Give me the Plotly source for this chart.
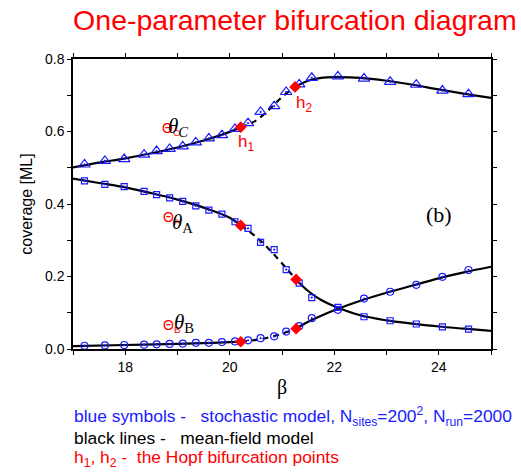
import plotly.graph_objects as go

# ---- stochastic model (blue symbols) ----
x_sym = [17.22, 17.61, 17.98, 18.36, 18.60, 18.85, 19.10, 19.35, 19.60, 19.85,
         20.10, 20.35, 20.59, 20.85, 21.08, 21.33, 21.57, 22.07, 22.57, 23.07,
         23.57, 24.07, 24.57]
theta_C_sym = [0.509, 0.519, 0.524, 0.536, 0.546, 0.552, 0.559, 0.570, 0.581, 0.590,
               0.607, 0.623, 0.654, 0.670, 0.709, 0.730, 0.748, 0.752, 0.746, 0.737,
               0.729, 0.713, 0.703]
theta_A_sym = [0.464, 0.454, 0.448, 0.435, 0.426, 0.417, 0.407, 0.395, 0.383, 0.372,
               0.351, 0.333, 0.294, 0.274, 0.219, 0.182, 0.142, 0.115, 0.089, 0.078,
               0.069, 0.061, 0.055]
theta_B_sym = [0.009, 0.010, 0.011, 0.012, 0.013, 0.014, 0.015, 0.017, 0.017, 0.019,
               0.021, 0.024, 0.030, 0.035, 0.048, 0.063, 0.085, 0.108, 0.139, 0.158,
               0.177, 0.199, 0.218]

# ---- mean-field model (black lines) ----
x_C_s1 = [17.0, 17.5, 18.0, 18.5, 19.0, 19.5, 20.0, 20.21]
y_C_s1 = [0.501, 0.514, 0.526, 0.540, 0.556, 0.575, 0.599, 0.612]
x_C_d = [20.21, 20.5, 20.75, 21.0, 21.25]
y_C_d = [0.612, 0.630, 0.660, 0.695, 0.723]
x_C_s2 = [21.25, 21.5, 21.75, 22.0, 22.5, 23.0, 23.5, 24.0, 24.5, 25.0]
y_C_s2 = [0.723, 0.740, 0.748, 0.750, 0.748, 0.740, 0.729, 0.716, 0.704, 0.693]

x_A_s1 = [17.0, 17.5, 18.0, 18.5, 19.0, 19.5, 20.0, 20.21]
y_A_s1 = [0.470, 0.458, 0.446, 0.430, 0.412, 0.390, 0.362, 0.341]
x_A_d = [20.21, 20.5, 20.8, 21.05, 21.27]
y_A_d = [0.341, 0.310, 0.268, 0.228, 0.192]
x_A_s2 = [21.27, 21.5, 21.75, 22.0, 22.5, 23.0, 23.5, 24.0, 24.5, 25.0]
y_A_s2 = [0.192, 0.160, 0.135, 0.118, 0.093, 0.079, 0.070, 0.062, 0.056, 0.050]

x_B_s1 = [17.0, 18.0, 19.0, 19.5, 20.0, 20.21]
y_B_s1 = [0.008, 0.011, 0.014, 0.016, 0.019, 0.020]
x_B_d = [20.21, 20.5, 20.75, 21.0, 21.27]
y_B_d = [0.020, 0.025, 0.032, 0.042, 0.056]
x_B_s2 = [21.27, 21.5, 21.75, 22.0, 22.5, 23.0, 23.5, 24.0, 24.5, 25.0]
y_B_s2 = [0.056, 0.075, 0.092, 0.107, 0.133, 0.155, 0.175, 0.195, 0.212, 0.227]

# ---- Hopf bifurcation points ----
x_hopf = [20.21, 21.25, 20.21, 21.27, 20.21, 21.27]
y_hopf = [0.612, 0.723, 0.341, 0.192, 0.020, 0.056]

x_tickvals = [17, 18, 19, 20, 21, 22, 23, 24, 25]
x_ticktext = ["", "18", "", "20", "", "22", "", "24", ""]
y_tickvals = [0.0, 0.1, 0.2, 0.3, 0.4, 0.5, 0.6, 0.7, 0.8]
y_ticktext = ["0.0", "", "0.2", "", "0.4", "", "0.6", "", "0.8"]

fig = go.Figure()

def line(x, y, dash):
    fig.add_trace(go.Scatter(x=x, y=y, mode="lines",
                             line=dict(color="black", width=2.2, dash=dash, shape="spline"),
                             showlegend=False, hoverinfo="skip"))

for xs, ys in [(x_C_s1, y_C_s1), (x_C_s2, y_C_s2), (x_A_s1, y_A_s1),
               (x_A_s2, y_A_s2), (x_B_s1, y_B_s1), (x_B_s2, y_B_s2)]:
    line(xs, ys, "solid")
for xs, ys in [(x_C_d, y_C_d), (x_A_d, y_A_d), (x_B_d, y_B_d)]:
    line(xs, ys, "6px,5px")

blue = "#1a1aff"
for ys, sym, sz in [(theta_C_sym, "triangle-up-open-dot", 10),
                    (theta_A_sym, "square-open-dot", 6),
                    (theta_B_sym, "circle-open-dot", 7)]:
    fig.add_trace(go.Scatter(x=x_sym, y=ys, mode="markers",
                             marker=dict(symbol=sym, size=sz, color=blue,
                                         line=dict(width=1.2, color=blue)),
                             showlegend=False))

fig.add_trace(go.Scatter(x=x_hopf, y=y_hopf, mode="markers",
                         marker=dict(symbol="diamond", size=9, color="#ff0000"),
                         showlegend=False))

red = "#ff0000"
ann = []
def label(x, y, text, color, size, family="Liberation Sans", xanchor="left"):
    ann.append(dict(x=x, y=y, xref="x", yref="y", text=text, showarrow=False,
                    font=dict(color=color, size=size, family=family),
                    xanchor=xanchor, yanchor="middle", borderpad=0))

label(18.686, 0.607, "Θ<sub>C</sub>", red, 14)
label(18.80, 0.612, "<i>θ</i><sub><i>C</i></sub>", "black", 21, "Liberation Serif")
label(18.705, 0.361, "Θ<sub>A</sub>", red, 14)
label(18.88, 0.348, "<i>θ</i><sub>A</sub>", "black", 21, "Liberation Serif")
label(18.705, 0.063, "Θ<sub>B</sub>", red, 14)
label(18.92, 0.072, "<i>θ</i><sub>B</sub>", "black", 21, "Liberation Serif")
label(20.31, 0.568, "h<sub>1</sub>", red, 17, xanchor="center")
label(21.43, 0.676, "h<sub>2</sub>", red, 17, xanchor="center")
label(24.01, 0.372, "(b)", "black", 22, "Liberation Serif", xanchor="center")

foot = [
    ("blue symbols -\u00a0\u00a0\u00a0stochastic model, N<sub>sites</sub>=200<sup>2</sup>, N<sub>run</sub>=2000", blue, -0.234),
    ("black lines -\u00a0\u00a0\u00a0mean-field model", "black", -0.307),
    ("h<sub>1</sub>, h<sub>2</sub> -\u00a0\u00a0the Hopf bifurcation points", red, -0.376),
]
for t, c, yy in foot:
    ann.append(dict(x=0, y=yy, xref="paper", yref="paper", text=t, showarrow=False,
                    font=dict(color=c, size=17.4, family="Liberation Sans"),
                    xanchor="left", yanchor="middle", borderpad=0))

fig.update_layout(
    width=521, height=472,
    margin=dict(l=73, r=30, t=59, b=123, autoexpand=False),
    paper_bgcolor="white", plot_bgcolor="white",
    title=dict(text="One-parameter bifurcation diagram", x=0.566, xanchor="center",
               y=0.958, yanchor="middle", font=dict(color=red, size=28.5, family="Liberation Sans")),
    annotations=ann,
    font=dict(family="Liberation Sans", color="black"),
)
axis_common = dict(showline=True, linecolor="black", linewidth=1.5, mirror="ticks",
                   ticks="outside", ticklen=4, tickwidth=1.2, tickcolor="black",
                   showgrid=False, zeroline=False, tickfont=dict(size=14), automargin=False)
fig.update_xaxes(range=[17, 25], tickvals=x_tickvals, ticktext=x_ticktext,
                 title=dict(text="β", font=dict(size=20, family="Liberation Serif"), standoff=6),
                 **axis_common)
fig.update_yaxes(range=[0, 0.8], tickvals=y_tickvals, ticktext=y_ticktext,
                 title=dict(text="coverage [ML]", font=dict(size=16), standoff=8),
                 **axis_common)

fig.write_html("out.html", config={"displayModeBar": False},
               post_script="document.body.style.margin='0px';")
